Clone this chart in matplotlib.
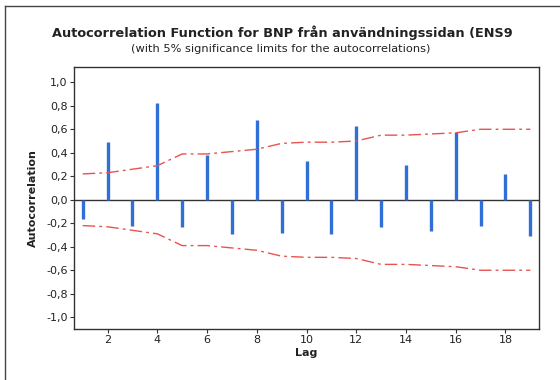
import matplotlib
matplotlib.use("Agg")
import matplotlib.pyplot as plt
from matplotlib.lines import Line2D

lags = list(range(1, 20))
acf = [-0.16, 0.49, -0.22, 0.82, -0.23, 0.385, -0.29, 0.68, -0.28, 0.33,
       -0.29, 0.63, -0.23, 0.30, -0.27, 0.58, -0.22, 0.22, -0.31]
upper = [0.22, 0.23, 0.26, 0.29, 0.39, 0.39, 0.41, 0.43, 0.48, 0.49,
         0.49, 0.50, 0.55, 0.55, 0.56, 0.57, 0.60, 0.60, 0.60]
lower = [-u for u in upper]
yticks = [1.0, 0.8, 0.6, 0.4, 0.2, 0.0, -0.2, -0.4, -0.6, -0.8, -1.0]
ytick_labels = ["1,0", "0,8", "0,6", "0,4", "0,2", "0,0", "-0,2", "-0,4", "-0,6", "-0,8", "-1,0"]
xticks = [2, 4, 6, 8, 10, 12, 14, 16, 18]

title = "Autocorrelation Function for BNP från användningssidan (ENS9"
subtitle = "(with 5% significance limits for the autocorrelations)"

plt.rcParams['font.family'] = ['DejaVu Sans']
fig = plt.figure(figsize=(5.6, 3.8), dpi=100)
fig.patch.set_facecolor('white')
ax = fig.add_axes([74/560, 1-329/380, (539-74)/560, (329-67)/380])

ax.vlines(lags, 0, acf, colors='#2f6fd6', linewidth=2.4)
ax.axhline(0, color='#333333', linewidth=1.0, zorder=1)
ax.plot(lags, upper, color='#e8534f', linestyle=(0, (9, 3, 2, 3)), linewidth=1.0)
ax.plot(lags, lower, color='#e8534f', linestyle=(0, (9, 3, 2, 3)), linewidth=1.0)

ax.set_xlim(0.65, 19.35)
ax.set_ylim(-1.1, 1.13)
ax.set_yticks(yticks)
ax.set_yticklabels(ytick_labels, fontsize=8, color='#222222')
ax.set_xticks(xticks)
ax.set_xticklabels([str(x) for x in xticks], fontsize=8, color='#222222')
ax.tick_params(length=3, width=0.8, color='#333333', pad=1.5)
for s in ax.spines.values():
    s.set_color('#333333')
    s.set_linewidth(1.0)

ax.set_xlabel("Lag", fontsize=8, fontweight='bold', labelpad=2, color='#222222')
ax.set_ylabel("Autocorrelation", fontsize=8, fontweight='bold', labelpad=6, color='#222222')

fig.text(282/560, 1-33/380, title, ha='center', va='center', fontsize=9.3,
         fontweight='bold', color='#222222')
fig.text(281/560, 1-49/380, subtitle, ha='center', va='center', fontsize=8.2,
         color='#222222')

# outer frame (left and top edges visible)
fig.add_artist(Line2D([5/560, 5/560], [0, 1-6/380], color='#444444', linewidth=1.0))
fig.add_artist(Line2D([5/560, 1], [1-6/380, 1-6/380], color='#444444', linewidth=1.0))

fig.savefig("out.png", dpi=100)
